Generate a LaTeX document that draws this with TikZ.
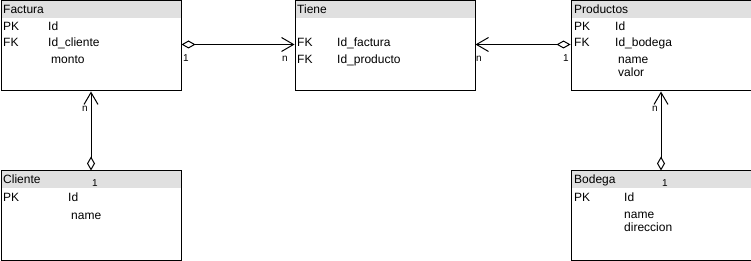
\documentclass[tikz,border=0pt]{standalone}
\usepackage{fontspec}
\setmainfont{Liberation Sans}
\usetikzlibrary{arrows.meta}

\definecolor{cabecera}{RGB}{224,224,224}

\tikzset{
  tabla/.style={draw, line width=1pt, anchor=north west, minimum width=180pt, minimum height=90pt, inner sep=0pt},
  campo/.style={anchor=base west, inner sep=0pt, font=\fontsize{12}{14}\selectfont},
  card/.style={inner sep=0pt, font=\fontsize{10}{11}\selectfont},
  rel/.style={line width=1pt, {Diamond[open,length=14pt,width=8pt]}-{Straight Barb[length=12pt,width=14pt]}}
}

\begin{document}
\begin{tikzpicture}[x=1pt,y=-1pt]
  \useasboundingbox (0,0) rectangle (751,261);

  % cabeceras grises
  \fill[cabecera] (0.5,0.5) rectangle (180.5,18.5);
  \fill[cabecera] (294.5,0.5) rectangle (474.5,18.5);
  \fill[cabecera] (570.5,0.5) rectangle (750.5,18.5);
  \fill[cabecera] (0.5,170.5) rectangle (180.5,188.5);
  \fill[cabecera] (570.5,170.5) rectangle (750.5,188.5);

  % tablas
  \node[tabla] (factura) at (0.5,0.5) {};
  \node[tabla] (tiene) at (294.5,0.5) {};
  \node[tabla] (productos) at (570.5,0.5) {};
  \node[tabla] (cliente) at (0.5,170.5) {};
  \node[tabla] (bodega) at (570.5,170.5) {};

  % Factura
  \node[campo] (facturaT) at (3,14) {Factura};
  \node[campo] (facturaPK) at (3,31) {PK};
  \node[campo] (facturaId) at (48,31) {Id};
  \node[campo] (facturaFK) at (3,47) {FK};
  \node[campo] (facturaCli) at (48,47) {Id\_cliente};
  \node[campo] (facturaMonto) at (51,64) {monto};

  % Tiene
  \node[campo] (tieneT) at (297,14) {Tiene};
  \node[campo] (tieneFK1) at (297,47) {FK};
  \node[campo] (tieneFac) at (337,47) {Id\_factura};
  \node[campo] (tieneFK2) at (297,64) {FK};
  \node[campo] (tieneProd) at (337,64) {Id\_producto};

  % Productos
  \node[campo] (productosT) at (574,14) {Productos};
  \node[campo] (productosPK) at (574,31) {PK};
  \node[campo] (productosId) at (615,31) {Id};
  \node[campo] (productosFK) at (574,47) {FK};
  \node[campo] (productosBod) at (615,47) {Id\_bodega};
  \node[campo] (productosName) at (618,64) {name};
  \node[campo] (productosValor) at (618,77) {valor};

  % Cliente
  \node[campo] (clienteT) at (3,184) {Cliente};
  \node[campo] (clientePK) at (3,202) {PK};
  \node[campo] (clienteId) at (68,202) {Id};
  \node[campo] (clienteName) at (71,220) {name};

  % Bodega
  \node[campo] (bodegaT) at (574,184) {Bodega};
  \node[campo] (bodegaPK) at (574,202) {PK};
  \node[campo] (bodegaId) at (624,202) {Id};
  \node[campo] (bodegaName) at (624,219) {name};
  \node[campo] (bodegaDir) at (624,232) {direccion};

  % relaciones
  \draw[rel] ([yshift=1.5pt]factura.east) -- ([yshift=1.5pt]tiene.west);
  \draw[rel] ([yshift=1.5pt]productos.west) -- ([yshift=1.5pt]tiene.east);
  \draw[rel] (cliente.north) -- (factura.south);
  \draw[rel] (bodega.north) -- (productos.south);

  % cardinalidades
  \node[card] (c1) at (186,58) {1};
  \node[card] (c2) at (285,59) {n};
  \node[card] (c3) at (479,59) {n};
  \node[card] (c4) at (566,58) {1};
  \node[card] (c5) at (85,109) {n};
  \node[card] (c6) at (95,183) {1};
  \node[card] (c7) at (655,109) {n};
  \node[card] (c8) at (665,183) {1};
\end{tikzpicture}
\end{document}
